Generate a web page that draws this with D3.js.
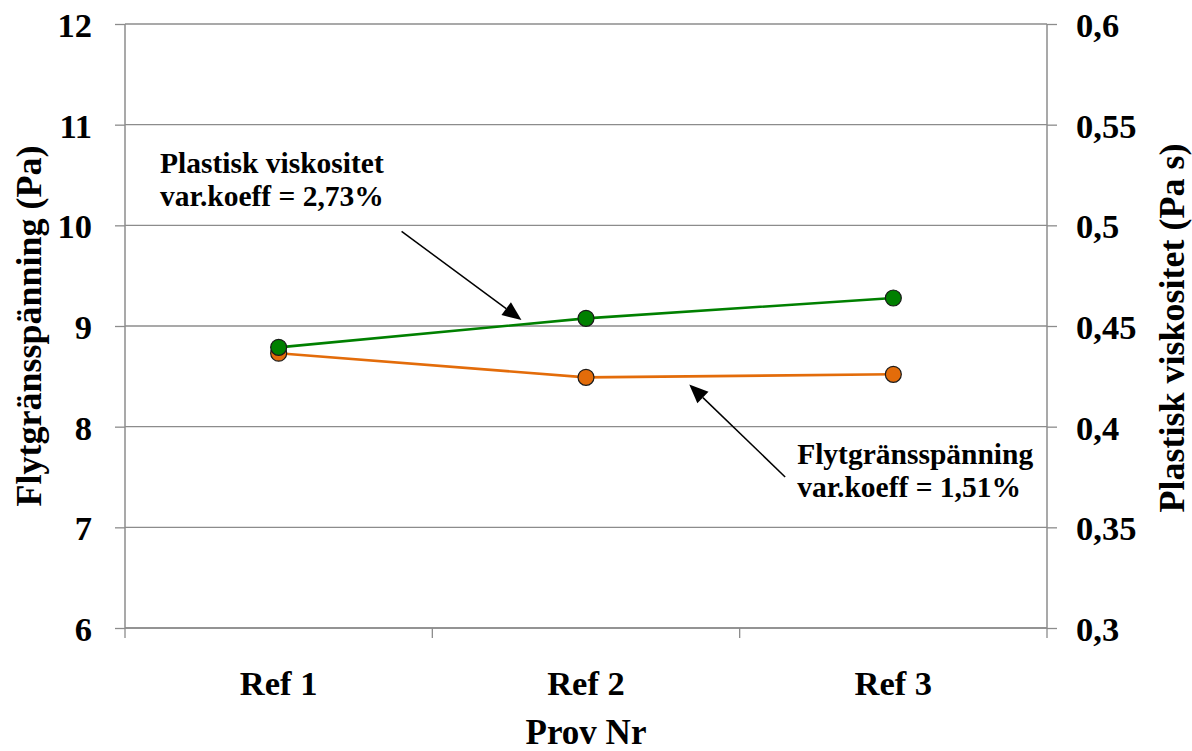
<!DOCTYPE html>
<html>
<head>
<meta charset="utf-8">
<script src="https://cdn.jsdelivr.net/npm/d3@7/dist/d3.min.js"></script>
<style>
  html, body { margin: 0; padding: 0; background: #fff; }
  svg { display: block; }
  text { font-family: "Liberation Serif", "Times New Roman", serif; font-weight: bold; fill: #000; }
</style>
</head>
<body>
<svg id="chart" width="1192" height="751"></svg>
<script>
// Sample names on the category axis
const categories = ["Ref 1", "Ref 2", "Ref 3"];
// Yield stress (Pa), left axis
const yieldStress = [8.73, 8.49, 8.52];
// Plastic viscosity (Pa s), right axis
const plasticViscosity = [0.4394, 0.4538, 0.4639];
// Axis ticks
const leftTicks = [6, 7, 8, 9, 10, 11, 12];
const rightTicks = [0.3, 0.35, 0.4, 0.45, 0.5, 0.55, 0.6];
const rightTickLabels = ["0,3", "0,35", "0,4", "0,45", "0,5", "0,55", "0,6"];
// Callouts: text anchor and arrow in (category position, left-axis value) units
const calloutViscosity = { lines: ["Plastisk viskositet", "var.koeff = 2,73%"], tx: -0.386, ty: 10.52, from: [0.40, 9.94], to: [0.79, 9.06] };
const calloutYield = { lines: ["Flytgränsspänning", "var.koeff = 1,51%"], tx: 1.687, ty: 7.63, from: [1.648, 7.50], to: [1.336, 8.42] };

const W = 1192, H = 751;
const margin = { top: 24, right: 145, bottom: 123, left: 125 };
const iw = W - margin.left - margin.right;
const ih = H - margin.top - margin.bottom;
const FONT = "'Liberation Serif', 'Times New Roman', serif";

const svg = d3.select("#chart");
const g = svg.append("g").attr("transform", `translate(${margin.left},${margin.top})`);

const x = d3.scaleBand().domain(categories).range([0, iw]);
const xPos = d3.scaleLinear().domain([0, 1]).range([x.bandwidth() / 2, x.bandwidth() * 1.5]);
const yL = d3.scaleLinear().domain([6, 12]).range([ih, 0]);
const yR = d3.scaleLinear().domain([0.3, 0.6]).range([ih, 0]);

const gridColor = "#8c8c8c";

// horizontal gridlines
g.append("g").selectAll("line").data(leftTicks).join("line")
  .attr("x1", 0).attr("x2", iw)
  .attr("y1", d => yL(d)).attr("y2", d => yL(d))
  .attr("stroke", gridColor).attr("stroke-width", 1.3);

function styleTicks(ax) {
  ax.select(".domain").remove();
  ax.append("line").attr("x1", 0).attr("x2", 0).attr("y1", 0).attr("y2", ih).attr("stroke", gridColor).attr("stroke-width", 1.5);
  ax.selectAll(".tick line").attr("stroke", gridColor).attr("stroke-width", 1.3);
  ax.selectAll(".tick text").attr("font-size", 34.5).attr("dy", "0.36em")
    .style("font-family", FONT).style("font-weight", "bold").attr("fill", "#000");
}

// left axis
const axL = g.append("g").call(d3.axisLeft(yL).tickValues(leftTicks).tickSize(10).tickPadding(23).tickFormat(d3.format("d")));
styleTicks(axL);

// right axis
const axR = g.append("g").attr("transform", `translate(${iw},0)`)
  .call(d3.axisRight(yR).tickValues(rightTicks).tickSize(10).tickPadding(19).tickFormat((d, i) => rightTickLabels[i]));
styleTicks(axR);

// bottom axis: ticks at category boundaries
const boundaries = d3.range(categories.length + 1).map(i => i * x.step());
g.append("line").attr("x1", 0).attr("x2", iw).attr("y1", ih).attr("y2", ih).attr("stroke", gridColor).attr("stroke-width", 1.5);
g.append("g").selectAll("line").data(boundaries).join("line")
  .attr("x1", d => d).attr("x2", d => d).attr("y1", ih).attr("y2", ih + 10)
  .attr("stroke", gridColor).attr("stroke-width", 1.3);
g.append("g").selectAll("text").data(categories).join("text")
  .attr("x", d => x(d) + x.bandwidth() / 2).attr("y", ih + 67)
  .attr("text-anchor", "middle").attr("font-size", 34.5).text(d => d);

// series lines and markers
function drawSeries(values, yScale, color) {
  const pts = values.map((v, i) => [x(categories[i]) + x.bandwidth() / 2, yScale(v)]);
  g.append("path").attr("d", d3.line()(pts)).attr("fill", "none")
    .attr("stroke", color).attr("stroke-width", 2.6);
  g.append("g").selectAll("circle").data(pts).join("circle")
    .attr("cx", d => d[0]).attr("cy", d => d[1]).attr("r", 8)
    .attr("fill", color).attr("stroke", "#1a1a1a").attr("stroke-width", 1.2);
}
drawSeries(yieldStress, yL, "#E36C0A");
drawSeries(plasticViscosity, yR, "#008000");

// callouts with arrows
function drawCallout(c) {
  const x1 = xPos(c.from[0]), y1 = yL(c.from[1]);
  const x2 = xPos(c.to[0]), y2 = yL(c.to[1]);
  const ang = Math.atan2(y2 - y1, x2 - x1);
  const len = 19, half = 8;
  const bx = x2 - len * Math.cos(ang), by = y2 - len * Math.sin(ang);
  g.append("line").attr("x1", x1).attr("y1", y1).attr("x2", bx).attr("y2", by)
    .attr("stroke", "#000").attr("stroke-width", 1.5);
  const px = -Math.sin(ang) * half, py = Math.cos(ang) * half;
  g.append("path")
    .attr("d", `M${x2},${y2}L${bx + px},${by + py}L${bx - px},${by - py}Z`)
    .attr("fill", "#000");
  const t = g.append("text").attr("x", xPos(c.tx)).attr("y", yL(c.ty)).attr("font-size", 29.5);
  c.lines.forEach((s, i) => t.append("tspan").attr("x", xPos(c.tx)).attr("dy", i === 0 ? 0 : 33).text(s));
}
drawCallout(calloutViscosity);
drawCallout(calloutYield);

// axis titles
svg.append("text").attr("transform", `translate(41,${326}) rotate(-90)`)
  .attr("text-anchor", "middle").attr("font-size", 36).text("Flytgränsspänning (Pa)");
svg.append("text").attr("transform", `translate(1184,${328}) rotate(-90)`)
  .attr("text-anchor", "middle").attr("font-size", 36).text("Plastisk viskositet (Pa s)");
svg.append("text").attr("x", margin.left + iw / 2).attr("y", 744)
  .attr("text-anchor", "middle").attr("font-size", 35).text("Prov Nr");
</script>
</body>
</html>
